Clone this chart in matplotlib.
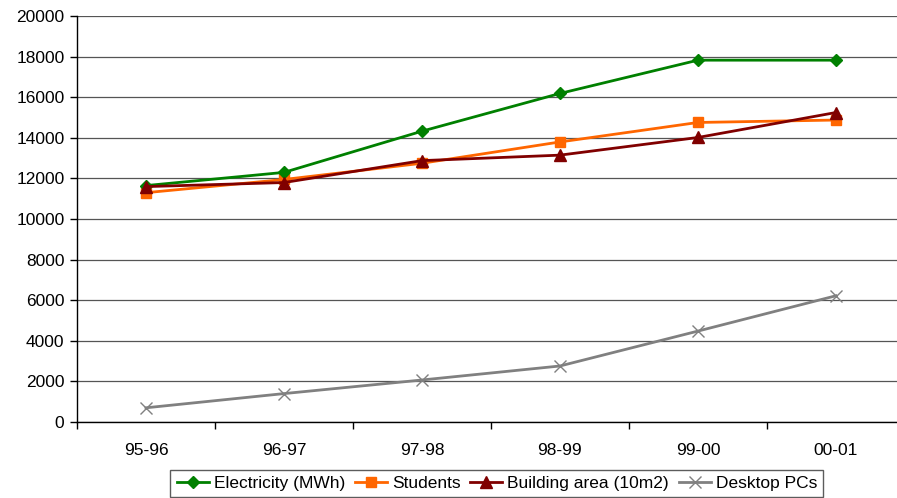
import matplotlib.pyplot as plt
import numpy as np

plt.rcParams['font.family'] = ['Liberation Sans', 'DejaVu Sans']

years = ["95-96", "96-97", "97-98", "98-99", "99-00", "00-01"]
electricity = [11650, 12300, 14330, 16190, 17830, 17830]
students = [11300, 11950, 12750, 13800, 14760, 14880]
building_area = [11600, 11800, 12880, 13150, 14020, 15250]
desktop_pcs = [700, 1400, 2070, 2760, 4480, 6220]

fig = plt.figure(figsize=(8.97, 4.98), dpi=100)
ax = fig.add_axes([0.0858, 0.1526, 0.923, 0.815])

x = np.arange(len(years))
ax.plot(x, electricity, color='#008000', lw=2, marker='D', ms=6.5,
        label='Electricity (MWh)', zorder=4)
ax.plot(x, students, color='#FF6600', lw=2, marker='s', ms=7.5,
        label='Students', zorder=3)
ax.plot(x, building_area, color='#800000', lw=2, marker='^', ms=8.5,
        label='Building area (10m2)', zorder=5)
ax.plot(x, desktop_pcs, color='#808080', lw=2, marker='x', ms=9, mew=1,
        label='Desktop PCs', zorder=3)

ax.set_xlim(-0.5, len(years) - 0.5)
ax.set_ylim(0, 20000)
ax.set_yticks(np.arange(0, 20001, 2000))
ax.yaxis.grid(True, color='#555555', lw=0.9)
ax.set_axisbelow(True)

ax.set_xticks(x)
ax.set_xticklabels(years)
ax.set_xticks(np.arange(-0.5, len(years)), minor=True)
ax.tick_params(axis='x', which='major', length=0, pad=15, labelsize=12.5)
ax.tick_params(axis='x', which='minor', length=5, width=1, direction='out')
ax.tick_params(axis='y', length=5, width=1, pad=4, labelsize=12.5)

for side in ['top', 'right']:
    ax.spines[side].set_visible(False)
for side in ['left', 'bottom']:
    ax.spines[side].set_color('black')
    ax.spines[side].set_linewidth(1)

leg = fig.legend(loc='upper center', bbox_to_anchor=(0.554, 0.0562), ncol=4,
                 fontsize=12.5, frameon=True, fancybox=False, edgecolor='#333333',
                 handlelength=1.85, handletextpad=0.3, columnspacing=0.55,
                 borderpad=0.35, borderaxespad=0)
leg.get_frame().set_linewidth(1)

fig.savefig('out.png', dpi=100)
